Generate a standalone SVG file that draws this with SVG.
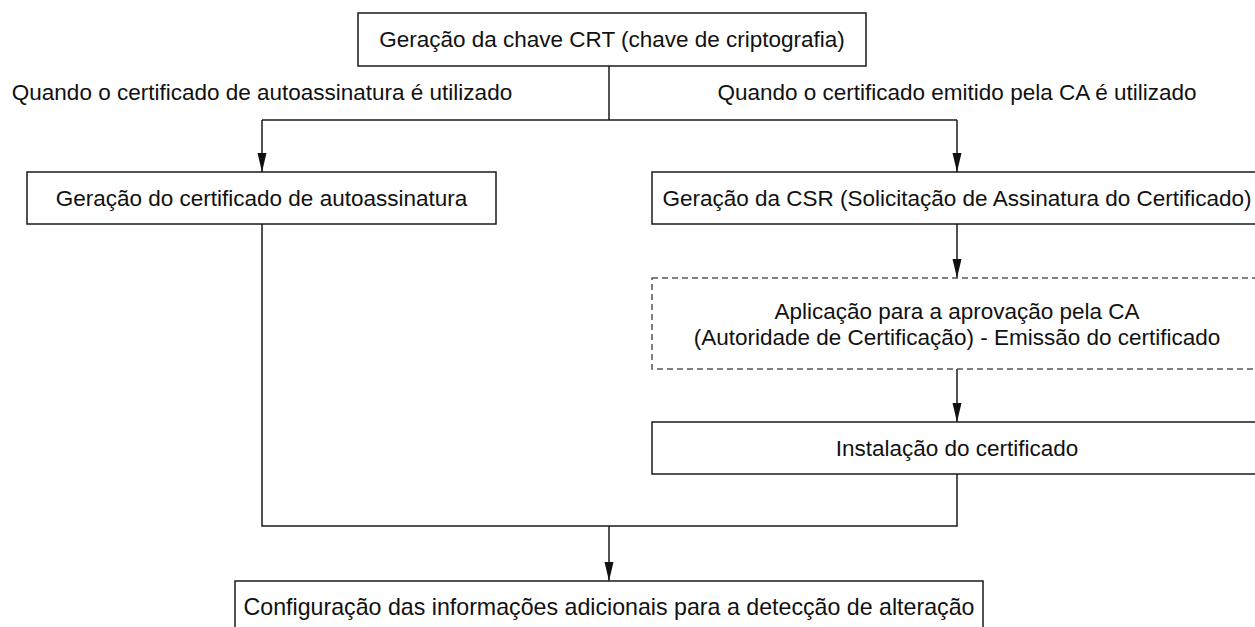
<svg xmlns="http://www.w3.org/2000/svg" width="1255" height="627" viewBox="0 0 1255 627">
<defs>
<style>
.box{fill:#fff;stroke:#1a1a1a;stroke-width:1.5}
.dash{fill:#fff;stroke:#555;stroke-width:1.5;stroke-dasharray:6 4}
.t{font-family:"Liberation Sans",Arial,sans-serif;font-size:22.5px;fill:#111;text-anchor:middle}
.big{font-size:23.2px}
.c{fill:none;stroke:#1a1a1a;stroke-width:1.5}
</style>
<marker id="arr" markerWidth="19" markerHeight="10" refX="19" refY="5" orient="auto" markerUnits="userSpaceOnUse" viewBox="0 0 19 10">
<path d="M0,0.5 L19,5 L0,9.5 Z" fill="#111"/>
</marker>
</defs>
<g id="connectors">
<path class="c" d="M609,66 V120 M262,120 H957"/>
<path class="c" d="M262,120 V172" marker-end="url(#arr)"/>
<path class="c" d="M957,120 V172" marker-end="url(#arr)"/>
<path class="c" d="M957,224 V278" marker-end="url(#arr)"/>
<path class="c" d="M957,369 V422" marker-end="url(#arr)"/>
<path class="c" d="M262,224 V526 H957 V474"/>
<path class="c" d="M609,526 V581" marker-end="url(#arr)"/>
</g>
<g id="labels">
<text class="t" x="262" y="100">Quando o certificado de autoassinatura é utilizado</text>
<text class="t" x="957" y="100">Quando o certificado emitido pela CA é utilizado</text>
</g>
<g id="n1"><rect class="box" x="358" y="13" width="508" height="53"/><text class="t" x="612" y="47">Geração da chave CRT (chave de criptografia)</text></g>
<g id="n2"><rect class="box" x="27" y="172" width="469" height="52"/><text class="t" x="261.5" y="206">Geração do certificado de autoassinatura</text></g>
<g id="n3"><rect class="box" x="652" y="172" width="610" height="52"/><text class="t" x="957" y="206">Geração da CSR (Solicitação de Assinatura do Certificado)</text></g>
<g id="n4"><rect class="dash" x="652" y="278" width="610" height="91"/><text class="t" x="957" y="319">Aplicação para a aprovação pela CA</text><text class="t" x="957" y="345">(Autoridade de Certificação) - Emissão do certificado</text></g>
<g id="n5"><rect class="box" x="652" y="422" width="610" height="52"/><text class="t" x="957" y="456">Instalação do certificado</text></g>
<g id="n6"><rect class="box" x="235" y="581" width="748" height="60"/><text class="t big" x="609" y="615">Configuração das informações adicionais para a detecção de alteração</text></g>
</svg>
